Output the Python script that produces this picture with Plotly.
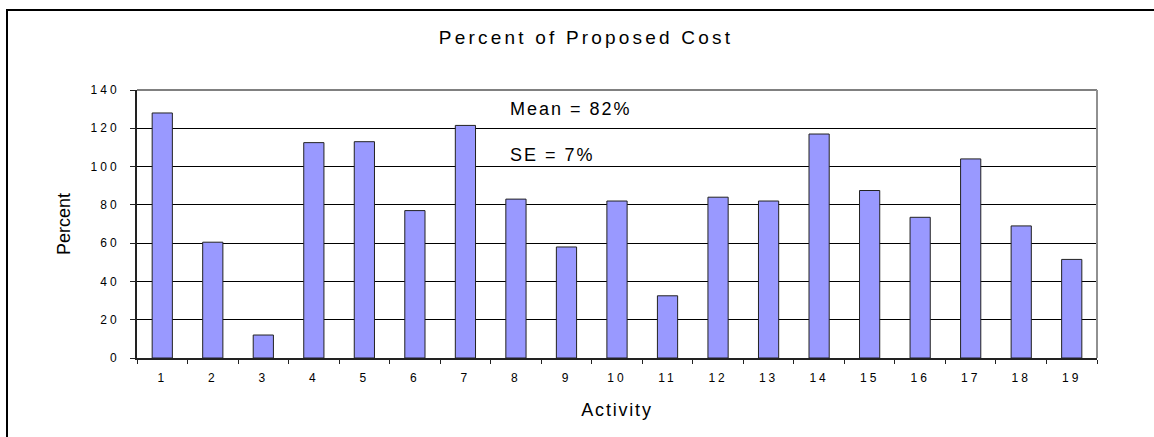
import plotly.graph_objects as go

# Activity numbers and percent of proposed cost
activities = [str(i) for i in range(1, 20)]
percent = [128, 60.5, 12, 112.5, 113, 77, 121.5, 83, 58, 82,
           32.5, 84, 82, 117, 87.5, 73.5, 104, 69, 51.5]
y_ticks = [0, 20, 40, 60, 80, 100, 120, 140]
mean_label = "Mean = 82%"
se_label = "SE = 7%"

FONT = "Arial, 'Liberation Sans', sans-serif"

fig = go.Figure(
    go.Bar(
        x=activities,
        y=percent,
        marker=dict(color="#9999FF", line=dict(color="#222222", width=1)),
        width=0.4,
    )
)

fig.update_layout(
    width=1154,
    height=437,
    autosize=False,
    margin=dict(l=137, r=57, t=90, b=79),
    paper_bgcolor="white",
    plot_bgcolor="white",
    showlegend=False,
    font=dict(family=FONT, color="#000000"),
    title=dict(
        text="Percent of Proposed Cost",
        x=586 / 1154,
        xanchor="center",
        y=1 - 37 / 437,
        yanchor="middle",
        font=dict(size=19, family=FONT, color="#000000"),
    ),
)

fig.update_xaxes(
    type="category",
    tickson="boundaries",
    ticks="outside",
    ticklen=4,
    tickcolor="#222222",
    showline=True,
    linecolor="#222222",
    linewidth=2,
    showgrid=False,
    tickfont=dict(size=12, family=FONT, color="#000000"),
    ticklabelstandoff=8,
    title=dict(text="Activity", font=dict(size=18, family=FONT, color="#000000"), standoff=19),
)

fig.update_yaxes(
    range=[0, 140],
    tickvals=y_ticks,
    ticks="outside",
    ticklen=5,
    tickcolor="#222222",
    showline=True,
    linecolor="#222222",
    linewidth=2,
    showgrid=True,
    gridcolor="#000000",
    gridwidth=1,
    zeroline=False,
    tickfont=dict(size=12, family=FONT, color="#000000"),
    ticklabelstandoff=8,
    title=dict(text="Percent", font=dict(size=18, family=FONT, color="#000000"), standoff=24),
)

# Plot-area frame: grey on top and right
fig.add_shape(type="line", xref="paper", yref="paper", x0=0, x1=1, y0=1, y1=1,
              line=dict(color="#808080", width=2))
fig.add_shape(type="line", xref="paper", yref="paper", x0=1, x1=1, y0=0, y1=1,
              line=dict(color="#909090", width=2))

# Chart-area border
fig.add_shape(type="rect", xref="paper", yref="paper",
              x0=(7 - 137) / 960, x1=1.3, y0=-0.5, y1=(358 - 10) / 268,
              line=dict(color="#000000", width=2), fillcolor="rgba(0,0,0,0)")

fig.add_annotation(text=mean_label, xref="paper", yref="y", x=(518 - 137) / 960, y=130.0,
                   xanchor="left", yanchor="middle", showarrow=False,
                   font=dict(size=18, family=FONT, color="#000000"))
fig.add_annotation(text=se_label, xref="paper", yref="y", x=(515 - 137) / 960, y=106.0,
                   xanchor="left", yanchor="middle", showarrow=False,
                   font=dict(size=18, family=FONT, color="#000000"))

spacing_css = """
var s = document.createElement('style');
s.textContent = '.gtitle{letter-spacing:3.2px} .xtick text{letter-spacing:3px} '
  + '.ytick text{letter-spacing:3px} .xtitle{letter-spacing:1.8px} '
  + '.annotation text{letter-spacing:2px !important}';
document.head.appendChild(s);
"""

fig.write_html("out.html", post_script=spacing_css)
